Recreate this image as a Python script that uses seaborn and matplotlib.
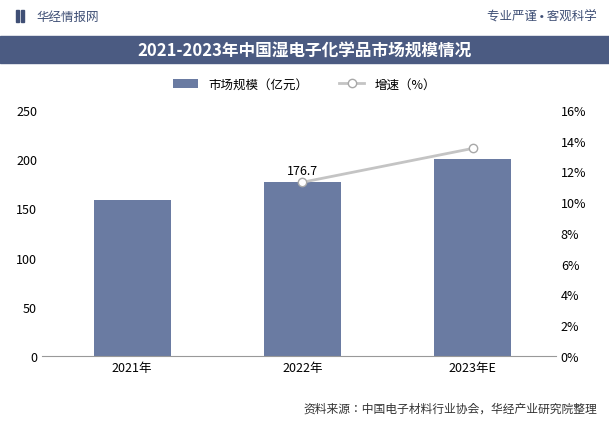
import matplotlib.pyplot as plt
import seaborn as sns
import pandas as pd
from matplotlib.patches import Rectangle

plt.rcParams['font.family'] = ['Noto Sans CJK SC', 'Noto Sans CJK JP', 'DejaVu Sans']
plt.rcParams['font.sans-serif'] = ['Noto Sans CJK SC', 'Noto Sans CJK JP', 'DejaVu Sans']

years = ['2021年', '2022年', '2023年E']
scale = [158.8, 176.7, 200.0]
growth_years = ['2022年', '2023年E']
growth = [11.3, 13.5]

df = pd.DataFrame({'year': years, 'scale': scale})

fig = plt.figure(figsize=(6.09, 4.27), dpi=100)
W, H = 609, 427

# header
fig.patches.append(Rectangle((16 / W, 1 - 23 / H), 3 / W, 12 / H, transform=fig.transFigure,
                             color='#3f4f75'))
fig.patches.append(Rectangle((21 / W, 1 - 23 / H), 3 / W, 12 / H, transform=fig.transFigure,
                             color='#3f4f75'))
fig.text(36 / W, 1 - 17 / H, '华经情报网', color='#3f4f75', fontsize=9, va='center')
fig.text(597 / W, 1 - 17 / H, '专业严谨 • 客观科学', color='#3f4f75', fontsize=9, va='center', ha='right')
fig.patches.append(Rectangle((0, 1 - 64 / H), 1, 27 / H, transform=fig.transFigure,
                             color='#4b5b82', zorder=0))
fig.text(0.5, 1 - 50.5 / H, '2021-2023年中国湿电子化学品市场规模情况', color='white',
         fontsize=12, fontweight='bold', ha='center', va='center')

ax = fig.add_axes([42 / W, 1 - 357 / H, (556 - 42) / W, (357 - 111) / H])
sns.barplot(data=df, x='year', y='scale', color='#6a7ba2', width=0.45, ax=ax,
            saturation=1, label='市场规模（亿元）', legend=False)
ax.set_xlim(-0.53, 2.49)
ax.set_ylim(0, 250)
ax.set_yticks(range(0, 251, 50))
ax.set_xlabel('')
ax.set_ylabel('')
for s in ['top', 'right', 'left']:
    ax.spines[s].set_visible(False)
ax.spines['bottom'].set_color('#999999')
ax.tick_params(axis='both', labelsize=9, length=0)
ax.annotate(f'{scale[1]}', (1, scale[1]), xytext=(0, 4), textcoords='offset points',
            ha='center', va='bottom', fontsize=9)

ax2 = ax.twinx()
gx = [years.index(y) for y in growth_years]
ax2.plot(gx, growth, color='#c4c4c4', lw=2, marker='o', ms=6, mfc='white',
         mec='#a8a8a8', label='增速（%）')
ax2.set_ylim(0, 16)
ax2.set_yticks(range(0, 17, 2))
ax2.set_yticklabels([f'{v}%' for v in range(0, 17, 2)])
for s in ['top', 'right', 'left', 'bottom']:
    ax2.spines[s].set_visible(False)
ax2.tick_params(axis='y', labelsize=9, length=0)

h1, l1 = ax.get_legend_handles_labels()
h2, l2 = ax2.get_legend_handles_labels()
if ax.get_legend():
    ax.get_legend().remove()
fig.legend(h1 + h2, l1 + l2, loc='center', bbox_to_anchor=(0.5, 1 - 85 / H), ncol=2,
           frameon=False, fontsize=9, columnspacing=2.5)

fig.text(597 / W, 1 - 409 / H, '资料来源：中国电子材料行业协会，华经产业研究院整理',
         fontsize=8.5, ha='right', va='center', color='#333333')

fig.savefig('out.png', dpi=100)
